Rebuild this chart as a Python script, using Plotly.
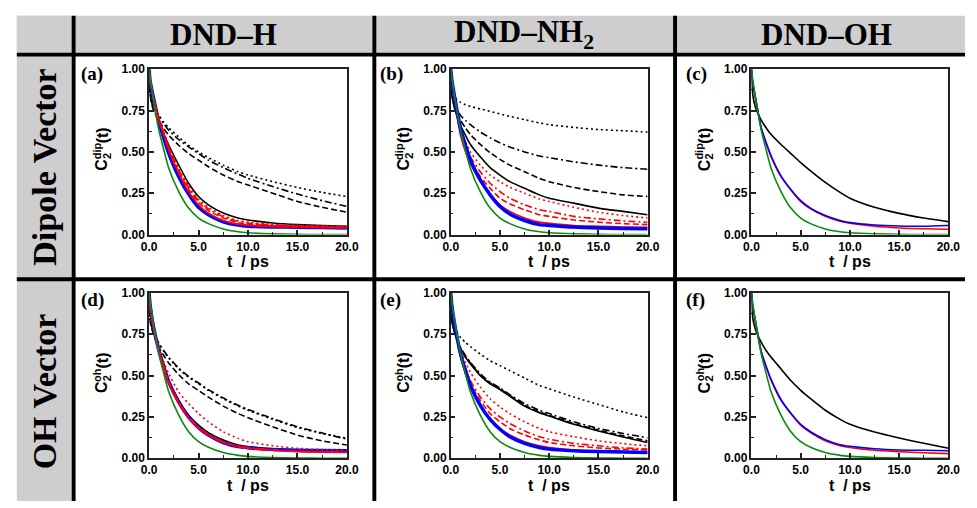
import plotly.graph_objects as go

W, H = 977, 508

# ---------------- data ----------------
T = [0, 0.1, 0.4, 1, 1.5, 2, 3, 4, 5, 6, 7.5, 9, 10, 12.5, 15, 17.5, 20]

COL_HEADERS = ["DND–H", "DND–NH<sub>2</sub>", "DND–OH"]
ROW_HEADERS = ["Dipole Vector", "OH Vector"]
PANEL_TAGS = ["(a)", "(b)", "(c)", "(d)", "(e)", "(f)"]
ROW_SUPS = ["dip", "oh"]
X_TICKS = [0, 5, 10, 15, 20]
Y_TICKS = [0, 0.25, 0.5, 0.75, 1.0]

GREEN = [1.0, 0.95, 0.83, 0.63, 0.51, 0.40, 0.26, 0.16, 0.10, 0.066, 0.034, 0.017, 0.011, 0.004, 0.001, 0.0, 0.0]

# (a) DND-H, dipole
A_BLK_DOT = [1.0, 0.86, 0.78, 0.72, 0.68, 0.645, 0.59, 0.54, 0.50, 0.465, 0.42, 0.38, 0.36, 0.32, 0.285, 0.255, 0.23]
A_BLK_DDOT = [1.0, 0.85, 0.77, 0.71, 0.67, 0.63, 0.575, 0.53, 0.49, 0.45, 0.405, 0.365, 0.34, 0.29, 0.245, 0.205, 0.17]
A_BLK_DASH = [1.0, 0.85, 0.76, 0.69, 0.64, 0.60, 0.54, 0.49, 0.45, 0.41, 0.36, 0.32, 0.30, 0.25, 0.20, 0.165, 0.135]
A_BLK_SOLID = [1.0, 0.90, 0.80, 0.69, 0.61, 0.54, 0.42, 0.31, 0.23, 0.18, 0.13, 0.10, 0.088, 0.07, 0.06, 0.054, 0.05]
A_RED_SOLID = [1.0, 0.93, 0.84, 0.69, 0.60, 0.51, 0.37, 0.26, 0.18, 0.13, 0.085, 0.062, 0.055, 0.047, 0.044, 0.042, 0.04]
A_RED_DASH = [1.0, 0.93, 0.84, 0.69, 0.605, 0.52, 0.38, 0.275, 0.195, 0.145, 0.10, 0.072, 0.064, 0.053, 0.048, 0.046, 0.045]
A_RED_DDOT = [1.0, 0.93, 0.84, 0.695, 0.61, 0.525, 0.39, 0.285, 0.205, 0.155, 0.108, 0.08, 0.07, 0.058, 0.053, 0.05, 0.048]
A_RED_DOT = [1.0, 0.93, 0.845, 0.70, 0.62, 0.535, 0.40, 0.295, 0.215, 0.165, 0.115, 0.085, 0.075, 0.062, 0.056, 0.052, 0.05]
A_BLUE = [1.0, 0.93, 0.84, 0.68, 0.58, 0.49, 0.35, 0.245, 0.165, 0.12, 0.077, 0.057, 0.05, 0.046, 0.044, 0.042, 0.04]

# (b) DND-NH2, dipole
B_BLK_DOT = [1.0, 0.87, 0.83, 0.80, 0.785, 0.775, 0.76, 0.745, 0.73, 0.715, 0.695, 0.675, 0.665, 0.648, 0.635, 0.628, 0.62]
B_BLK_DDOT = [1.0, 0.86, 0.78, 0.72, 0.69, 0.665, 0.62, 0.585, 0.555, 0.53, 0.50, 0.475, 0.465, 0.44, 0.42, 0.405, 0.395]
B_BLK_DASH = [1.0, 0.85, 0.77, 0.69, 0.645, 0.605, 0.545, 0.495, 0.455, 0.42, 0.38, 0.34, 0.32, 0.285, 0.26, 0.24, 0.23]
B_BLK_SOLID = [1.0, 0.85, 0.76, 0.66, 0.60, 0.545, 0.47, 0.405, 0.36, 0.32, 0.28, 0.24, 0.22, 0.19, 0.16, 0.14, 0.12]
B_RED_DOT = [1.0, 0.90, 0.78, 0.63, 0.56, 0.50, 0.42, 0.36, 0.32, 0.285, 0.25, 0.215, 0.20, 0.165, 0.135, 0.115, 0.10]
B_RED_DDOT = [1.0, 0.92, 0.80, 0.62, 0.54, 0.47, 0.38, 0.31, 0.26, 0.22, 0.18, 0.15, 0.14, 0.11, 0.095, 0.083, 0.074]
B_RED_DASH = [1.0, 0.92, 0.80, 0.61, 0.52, 0.45, 0.35, 0.28, 0.22, 0.185, 0.15, 0.12, 0.11, 0.088, 0.075, 0.066, 0.06]
B_RED_SOLID = [1.0, 0.93, 0.81, 0.60, 0.50, 0.43, 0.32, 0.24, 0.18, 0.14, 0.10, 0.075, 0.068, 0.055, 0.05, 0.046, 0.044]
B_BLUE = [1.0, 0.94, 0.83, 0.64, 0.54, 0.45, 0.33, 0.24, 0.17, 0.125, 0.085, 0.06, 0.055, 0.045, 0.04, 0.037, 0.035]

# (c) DND-OH, dipole
C_BLK = [1.0, 0.86, 0.77, 0.69, 0.645, 0.605, 0.545, 0.49, 0.435, 0.385, 0.315, 0.255, 0.22, 0.165, 0.128, 0.10, 0.078]
C_RED = [1.0, 0.93, 0.83, 0.64, 0.55, 0.47, 0.35, 0.27, 0.20, 0.155, 0.11, 0.08, 0.068, 0.05, 0.04, 0.035, 0.032]
C_BLUE = [1.0, 0.93, 0.83, 0.645, 0.555, 0.475, 0.355, 0.272, 0.205, 0.16, 0.115, 0.085, 0.072, 0.058, 0.052, 0.05, 0.055]

# (d) DND-H, OH vector
D_BLK_DOT = [1.0, 0.84, 0.77, 0.69, 0.645, 0.605, 0.54, 0.49, 0.45, 0.41, 0.36, 0.315, 0.29, 0.235, 0.185, 0.15, 0.12]
D_BLK_DDOT = [1.0, 0.84, 0.77, 0.695, 0.65, 0.61, 0.545, 0.495, 0.455, 0.415, 0.365, 0.32, 0.295, 0.24, 0.19, 0.152, 0.115]
D_BLK_DASH = [1.0, 0.83, 0.76, 0.67, 0.62, 0.575, 0.505, 0.45, 0.41, 0.37, 0.315, 0.27, 0.245, 0.19, 0.14, 0.105, 0.08]
D_BLK_SOLID = [1.0, 0.90, 0.80, 0.66, 0.56, 0.47, 0.35, 0.26, 0.20, 0.155, 0.11, 0.08, 0.07, 0.055, 0.048, 0.044, 0.04]
D_RED_DOT = [1.0, 0.90, 0.80, 0.67, 0.58, 0.51, 0.40, 0.33, 0.27, 0.22, 0.16, 0.12, 0.10, 0.075, 0.06, 0.052, 0.048]
D_RED_DDOT = [1.0, 0.92, 0.81, 0.65, 0.55, 0.46, 0.34, 0.25, 0.19, 0.146, 0.10, 0.074, 0.064, 0.051, 0.043, 0.039, 0.037]
D_RED_DASH = [1.0, 0.92, 0.81, 0.645, 0.545, 0.455, 0.335, 0.245, 0.185, 0.142, 0.098, 0.072, 0.062, 0.05, 0.042, 0.038, 0.036]
D_RED_SOLID = [1.0, 0.92, 0.80, 0.64, 0.54, 0.45, 0.33, 0.24, 0.18, 0.14, 0.095, 0.07, 0.06, 0.048, 0.04, 0.037, 0.035]
D_BLUE = [1.0, 0.93, 0.81, 0.65, 0.55, 0.46, 0.34, 0.25, 0.185, 0.14, 0.095, 0.07, 0.063, 0.052, 0.048, 0.046, 0.045]

# (e) DND-NH2, OH vector
E_BLK_DOT = [1.0, 0.86, 0.79, 0.73, 0.70, 0.675, 0.63, 0.59, 0.56, 0.53, 0.485, 0.44, 0.42, 0.37, 0.325, 0.28, 0.245]
E_BLK_DDOT = [1.0, 0.84, 0.76, 0.67, 0.62, 0.58, 0.51, 0.46, 0.425, 0.385, 0.33, 0.29, 0.27, 0.22, 0.18, 0.15, 0.123]
E_BLK_DASH = [1.0, 0.84, 0.76, 0.665, 0.615, 0.575, 0.505, 0.455, 0.42, 0.38, 0.32, 0.28, 0.26, 0.21, 0.17, 0.135, 0.105]
E_BLK_SOLID = [1.0, 0.84, 0.755, 0.66, 0.61, 0.57, 0.50, 0.45, 0.415, 0.375, 0.315, 0.275, 0.255, 0.205, 0.165, 0.128, 0.095]
E_RED_DOT = [1.0, 0.90, 0.80, 0.66, 0.58, 0.52, 0.43, 0.36, 0.31, 0.27, 0.22, 0.18, 0.16, 0.13, 0.105, 0.088, 0.075]
E_RED_DDOT = [1.0, 0.92, 0.80, 0.63, 0.545, 0.47, 0.37, 0.30, 0.25, 0.21, 0.165, 0.13, 0.115, 0.09, 0.075, 0.063, 0.055]
E_RED_DASH = [1.0, 0.92, 0.80, 0.62, 0.53, 0.45, 0.35, 0.27, 0.22, 0.18, 0.14, 0.11, 0.095, 0.075, 0.062, 0.055, 0.05]
E_RED_SOLID = [1.0, 0.93, 0.80, 0.61, 0.51, 0.43, 0.32, 0.24, 0.18, 0.14, 0.10, 0.075, 0.065, 0.05, 0.043, 0.04, 0.038]
E_BLUE = [1.0, 0.93, 0.81, 0.63, 0.53, 0.44, 0.32, 0.235, 0.175, 0.13, 0.09, 0.065, 0.055, 0.045, 0.04, 0.037, 0.035]

# (f) DND-OH, OH vector
F_BLK = [1.0, 0.86, 0.78, 0.70, 0.65, 0.61, 0.54, 0.47, 0.41, 0.36, 0.29, 0.235, 0.205, 0.158, 0.122, 0.09, 0.06]
F_RED = [1.0, 0.93, 0.83, 0.64, 0.55, 0.47, 0.35, 0.27, 0.20, 0.155, 0.105, 0.075, 0.065, 0.048, 0.04, 0.033, 0.028]
F_BLUE = [1.0, 0.93, 0.83, 0.645, 0.555, 0.475, 0.355, 0.272, 0.205, 0.16, 0.112, 0.082, 0.072, 0.057, 0.05, 0.048, 0.045]

# ---------------- styles ----------------
BLACK, RED, BLUE, GRN = "#000000", "#ff0000", "#0000ff", "#0a8a0a"
DASH = {"solid": "solid", "dash": "6px,3px", "ddot": "7px,3px,2px,3px", "dot": "2px,3px"}
GRAY = "#cfcecf"
BW = 3.5  # thick blue band

PANELS = [
    [(A_BLK_DOT, BLACK, "dot", 1.6), (A_BLK_DDOT, BLACK, "ddot", 1.6), (A_BLK_DASH, BLACK, "dash", 1.6),
     (A_BLK_SOLID, BLACK, "solid", 1.6), (A_BLUE, BLUE, "solid", BW), (A_RED_DOT, RED, "dot", 1.6),
     (A_RED_DDOT, RED, "ddot", 1.6), (A_RED_DASH, RED, "dash", 1.6), (A_RED_SOLID, RED, "solid", 1.6),
     (GREEN, GRN, "solid", 1.6)],
    [(B_BLK_DOT, BLACK, "dot", 1.6), (B_BLK_DDOT, BLACK, "ddot", 1.6), (B_BLK_DASH, BLACK, "dash", 1.6),
     (B_BLK_SOLID, BLACK, "solid", 1.6), (B_RED_DOT, RED, "dot", 1.6), (B_RED_DDOT, RED, "ddot", 1.6),
     (B_RED_DASH, RED, "dash", 1.6), (B_RED_SOLID, RED, "solid", 1.6), (B_BLUE, BLUE, "solid", BW),
     (GREEN, GRN, "solid", 1.6)],
    [(C_BLK, BLACK, "solid", 1.6), (C_RED, RED, "solid", 1.6), (C_BLUE, BLUE, "solid", 1.6),
     (GREEN, GRN, "solid", 1.6)],
    [(D_BLK_DOT, BLACK, "dot", 1.6), (D_BLK_DDOT, BLACK, "ddot", 1.6), (D_BLK_DASH, BLACK, "dash", 1.6),
     (D_BLK_SOLID, BLACK, "solid", 1.6), (D_BLUE, BLUE, "solid", BW), (D_RED_DOT, RED, "dot", 1.6),
     (D_RED_DDOT, RED, "ddot", 1.6), (D_RED_DASH, RED, "dash", 1.6), (D_RED_SOLID, RED, "solid", 1.6),
     (GREEN, GRN, "solid", 1.6)],
    [(E_BLK_DOT, BLACK, "dot", 1.6), (E_BLK_DDOT, BLACK, "ddot", 1.6), (E_BLK_DASH, BLACK, "dash", 1.6),
     (E_BLK_SOLID, BLACK, "solid", 1.6), (E_RED_DOT, RED, "dot", 1.6), (E_RED_DDOT, RED, "ddot", 1.6),
     (E_RED_DASH, RED, "dash", 1.6), (E_RED_SOLID, RED, "solid", 1.6), (E_BLUE, BLUE, "solid", BW),
     (GREEN, GRN, "solid", 1.6)],
    [(F_BLK, BLACK, "solid", 1.6), (F_RED, RED, "solid", 1.6), (F_BLUE, BLUE, "solid", 1.6),
     (GREEN, GRN, "solid", 1.6)],
]

# ---------------- geometry (pixels) ----------------
def px(x):
    return x / W

def py(y):
    return 1 - y / H

COL_X = [(144, 346), (452, 653), (759, 960)]
ROW_Y = [(64, 234), (294, 464)]
TAG_X = [72, 378, 690]
TAG_Y = [69, 301]
HEAD_X = [220, 527, 836]

fig = go.Figure()
AX = "#222222"
tickfont = dict(family="Liberation Sans", size=12, color="black", weight="bold")

layout_axes = {}
annotations = []
for idx in range(6):
    r, c = divmod(idx, 3)
    n = idx + 1
    sx = "" if n == 1 else str(n)
    x0, x1 = COL_X[c]
    y0, y1 = ROW_Y[r]
    for yv, color, dash, width in PANELS[idx]:
        fig.add_trace(go.Scatter(
            x=T, y=yv, mode="lines", xaxis="x" + sx, yaxis="y" + sx,
            line=dict(color=color, width=width, dash=DASH[dash], shape="spline", smoothing=0.6),
            showlegend=False, hoverinfo="skip"))
    common = dict(showline=True, linecolor=AX, linewidth=1.5, mirror=True, showgrid=False,
                  zeroline=False, ticks="inside", ticklen=5, tickwidth=1.5, tickcolor=AX,
                  tickfont=tickfont, fixedrange=True)
    layout_axes["xaxis" + sx] = dict(
        domain=[px(x0), px(x1)], anchor="y" + sx, range=[0, 20],
        tickvals=X_TICKS, ticktext=[f"{v:.1f}" for v in X_TICKS],
        minor=dict(ticks="inside", dtick=2.5, tick0=0, ticklen=3, tickwidth=1.2, tickcolor=AX, showgrid=False),
        **common)
    layout_axes["yaxis" + sx] = dict(
        domain=[py(y1), py(y0)], anchor="x" + sx, range=[0, 1],
        tickvals=Y_TICKS, ticktext=[f"{v:.2f}" for v in Y_TICKS],
        minor=dict(ticks="inside", dtick=0.125, tick0=0, ticklen=3, tickwidth=1.2, tickcolor=AX, showgrid=False),
        **common)

    # panel tag
    annotations.append(dict(x=px(TAG_X[c]), y=py(TAG_Y[r]), xref="paper", yref="paper",
                            text="<b>" + PANEL_TAGS[idx] + "</b>", showarrow=False,
                            xanchor="left", yanchor="middle",
                            font=dict(family="Liberation Serif", size=19, color="black")))
    # x title
    annotations.append(dict(x=px((x0 + x1) / 2), y=py(y1 + 28), xref="paper", yref="paper",
                            text="<b>t  / ps</b>", showarrow=False, xanchor="center", yanchor="middle",
                            font=dict(family="Liberation Sans", size=16, color="black")))
    # y title, stacked sub/sup
    yc = (y0 + y1) / 2 - 3
    tx = x0 - 48
    bf = dict(family="Liberation Sans", size=16, color="black")
    sf = dict(family="Liberation Sans", size=11, color="black")
    sup = ROW_SUPS[r]
    half = 22 if sup == "dip" else 20.5
    stackw = 16.5 if sup == "dip" else 13.4
    parts = [
        ("C", tx, yc + half - 5.8, bf),
        ("2", tx + 5, yc + half - 11.6 - 3.1, sf),
        (sup, tx - 5, yc + half - 11.6 - stackw / 2, sf),
        ("(t)", tx, yc + half - 11.6 - stackw - 8, bf),
    ]
    for txt, ax_, ay_, f in parts:
        annotations.append(dict(x=px(ax_), y=py(ay_), xref="paper", yref="paper",
                                text="<b>" + txt + "</b>", showarrow=False, textangle=-90,
                                xanchor="center", yanchor="middle", font=f))

# headers
for i, h in enumerate(COL_HEADERS):
    annotations.append(dict(x=px(HEAD_X[i]), y=py(28), xref="paper", yref="paper",
                            text="<b>" + h + "</b>", showarrow=False, xanchor="center", yanchor="middle",
                            font=dict(family="Liberation Serif", size=31, color="black")))
ROW_CY = [165, 395]
for i, h in enumerate(ROW_HEADERS):
    annotations.append(dict(x=px(37), y=py(ROW_CY[i]), xref="paper", yref="paper",
                            text="<b>" + h + "</b>", showarrow=False, textangle=-90,
                            xanchor="center", yanchor="middle",
                            font=dict(family="Liberation Serif", size=34, color="black")))

def rect(xa, ya, xb, yb, color):
    return dict(type="rect", xref="paper", yref="paper", x0=px(xa), x1=px(xb), y0=py(yb), y1=py(ya),
                fillcolor=color, line=dict(width=0), layer="below")

shapes = [
    rect(9, 9, W, 47, GRAY),
    rect(9, 9, 65, H, GRAY),
    rect(9, 47, W, 51, "black"),
    rect(9, 278, W, 282, "black"),
    rect(65, 9, 69, H, "black"),
    rect(372, 9, 376, H, "black"),
    rect(679, 9, 683, H, "black"),
]

fig.update_layout(
    width=W, height=H, autosize=False,
    margin=dict(l=0, r=0, t=0, b=0, pad=0),
    paper_bgcolor="white", plot_bgcolor="rgba(0,0,0,0)",
    annotations=annotations, shapes=shapes, showlegend=False,
    **layout_axes)

fig.write_html("out.html", config={"displayModeBar": False})
